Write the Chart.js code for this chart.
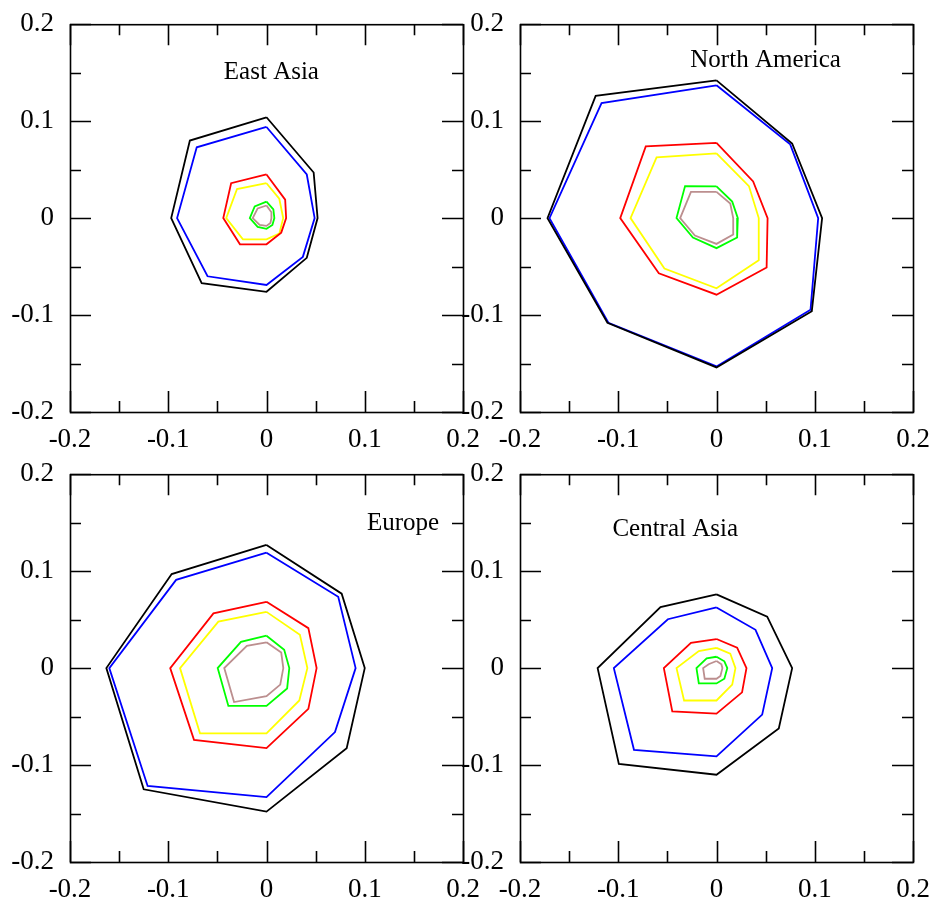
<!DOCTYPE html>
<html>
<head>
<meta charset="utf-8">
<script src="https://cdn.jsdelivr.net/npm/chart.js@4.4.1/dist/chart.umd.min.js"></script>
<style>
  body { margin: 0; background: #fff; width: 934px; height: 899px; position: relative; overflow: hidden; }
  canvas { position: absolute; }
</style>
</head>
<body>
<canvas id="eastAsia" width="485" height="460" style="left:0px;top:0px"></canvas>
<canvas id="northAmerica" width="485" height="460" style="left:450px;top:0px"></canvas>
<canvas id="europe" width="485" height="460" style="left:0px;top:450px"></canvas>
<canvas id="centralAsia" width="485" height="460" style="left:450px;top:450px"></canvas>
<script>
// tick values and labels (same for every panel)
const tickLabels = ['-0.2', '-0.1', '0', '0.1', '0.2'];
const majorTicks = [-0.2, -0.1, 0, 0.1, 0.2];
const minorTicks = [-0.15, -0.05, 0.05, 0.15];

// line colours, outer to inner
const lineColors = ['#000000', '#0000ff', '#ff0000', '#ffff00', '#00ff00', '#bc8f8f'];

// East Asia polygons (x, y)
const eastAsiaBlack  = [[0,0.104],[0.048,0.047],[0.052,0],[0.041,-0.041],[0,-0.076],[-0.066,-0.067],[-0.097,0],[-0.078,0.080]];
const eastAsiaBlue   = [[0,0.094],[0.041,0.045],[0.049,0],[0.037,-0.040],[0,-0.069],[-0.060,-0.060],[-0.091,0],[-0.071,0.073]];
const eastAsiaRed    = [[0,0.045],[0.019,0.019],[0.020,0],[0.015,-0.015],[0,-0.027],[-0.027,-0.027],[-0.044,0],[-0.036,0.036]];
const eastAsiaYellow = [[0,0.036],[0.013,0.020],[0.017,0],[0.013,-0.016],[0,-0.022],[-0.024,-0.022],[-0.041,0],[-0.030,0.030]];
const eastAsiaGreen  = [[0,0.017],[0.007,0.009],[0.008,0],[0.006,-0.007],[0,-0.011],[-0.009,-0.009],[-0.017,0],[-0.012,0.012]];
const eastAsiaBrown  = [[0,0.013],[0.005,0.006],[0.005,0],[0.004,-0.005],[0,-0.008],[-0.007,-0.007],[-0.014,0],[-0.009,0.010]];

// North America polygons
const northAmericaBlack  = [[0,0.142],[0.077,0.077],[0.1075,0],[0.097,-0.096],[0,-0.154],[-0.111,-0.108],[-0.172,0],[-0.123,0.126]];
const northAmericaBlue   = [[0,0.137],[0.075,0.076],[0.1035,0],[0.0957,-0.0945],[0,-0.153],[-0.110,-0.108],[-0.170,0],[-0.117,0.1186]];
const northAmericaRed    = [[0,0.0775],[0.0373,0.0378],[0.052,0],[0.051,-0.051],[0,-0.079],[-0.0587,-0.057],[-0.098,0],[-0.072,0.074]];
const northAmericaYellow = [[0,0.0667],[0.033,0.033],[0.043,0],[0.043,-0.0436],[0,-0.0724],[-0.053,-0.052],[-0.0875,0],[-0.061,0.0626]];
const northAmericaGreen  = [[0,0.0327],[0.016,0.017],[0.0217,0],[0.021,-0.020],[0,-0.031],[-0.024,-0.020],[-0.0407,0],[-0.032,0.033]];
const northAmericaBrown  = [[0,0.027],[0.014,0.015],[0.017,0],[0.017,-0.017],[0,-0.0266],[-0.022,-0.018],[-0.037,0],[-0.026,0.027]];

// Europe polygons
const europeBlack  = [[0,0.127],[0.0765,0.0768],[0.100,0],[0.0816,-0.0826],[0,-0.148],[-0.125,-0.125],[-0.163,0],[-0.0965,0.097]];
const europeBlue   = [[0,0.119],[0.073,0.0735],[0.0907,0],[0.0697,-0.066],[0,-0.133],[-0.121,-0.1216],[-0.160,0],[-0.092,0.091]];
const europeRed    = [[0,0.0684],[0.0426,0.0412],[0.051,0],[0.0426,-0.042],[0,-0.0826],[-0.0738,-0.074],[-0.098,0],[-0.054,0.0565]];
const europeYellow = [[0,0.058],[0.034,0.0344],[0.0416,0],[0.0334,-0.0334],[0,-0.0673],[-0.0677,-0.0673],[-0.088,0],[-0.049,0.048]];
const europeGreen  = [[0,0.0334],[0.018,0.019],[0.0232,0],[0.021,-0.021],[0,-0.039],[-0.0388,-0.039],[-0.0497,0],[-0.026,0.027]];
const europeBrown  = [[0,0.0266],[0.015,0.016],[0.0171,0],[0.014,-0.017],[0,-0.029],[-0.033,-0.035],[-0.043,0],[-0.020,0.023]];

// Central Asia polygons
const centralAsiaBlack  = [[0,0.076],[0.0516,0.053],[0.077,0],[0.0634,-0.0623],[0,-0.110],[-0.0994,-0.0989],[-0.121,0],[-0.057,0.063]];
const centralAsiaBlue   = [[0,0.0626],[0.0397,0.0395],[0.0567,0],[0.0465,-0.048],[0,-0.091],[-0.084,-0.0843],[-0.1045,0],[-0.0495,0.0504]];
const centralAsiaRed    = [[0,0.030],[0.021,0.021],[0.0305,0],[0.026,-0.025],[0,-0.047],[-0.045,-0.0446],[-0.0536,0],[-0.026,0.026]];
const centralAsiaYellow = [[0,0.0209],[0.014,0.015],[0.0193,0],[0.016,-0.017],[0,-0.0334],[-0.033,-0.0334],[-0.0407,0],[-0.018,0.0175]];
const centralAsiaGreen  = [[0,0.0117],[0.008,0.007],[0.011,0],[0.008,-0.011],[0,-0.0158],[-0.018,-0.0158],[-0.0204,0],[-0.010,0.010]];
const centralAsiaBrown  = [[0,0.0073],[0.005,0.004],[0.006,0],[0.004,-0.008],[0,-0.011],[-0.012,-0.011],[-0.0136,0],[-0.008,0.004]];

// Draws the box, the inward ticks on all four sides and the region name
const frameTicks = {
  id: 'frameTicks',
  afterDatasetsDraw(chart, args, opts) {
    const ctx = chart.ctx;
    const a = chart.chartArea;
    const xs = chart.scales.x, ys = chart.scales.y;
    ctx.save();
    ctx.strokeStyle = '#000';
    ctx.lineWidth = 1.6;
    ctx.beginPath();
    const tick = (v, len) => {
      const px = Math.round(xs.getPixelForValue(v)) + 0.5;
      const py = Math.round(ys.getPixelForValue(v)) + 0.5;
      ctx.moveTo(px, a.bottom); ctx.lineTo(px, a.bottom - len);
      ctx.moveTo(px, a.top); ctx.lineTo(px, a.top + len);
      ctx.moveTo(a.left, py); ctx.lineTo(a.left + len, py);
      ctx.moveTo(a.right, py); ctx.lineTo(a.right - len, py);
    };
    majorTicks.forEach(v => tick(v, 21));
    minorTicks.forEach(v => tick(v, 11));
    ctx.stroke();
    ctx.strokeRect(a.left + 0.5, a.top + 0.5, a.right - a.left, a.bottom - a.top);

    ctx.fillStyle = '#000';
    ctx.font = '25px "Liberation Serif"';
    ctx.textAlign = 'center';
    ctx.textBaseline = 'middle';
    ctx.fillText(opts.label, xs.getPixelForValue(opts.at[0]), ys.getPixelForValue(opts.at[1]));
    ctx.restore();
  }
};

function makeAxis(side) {
  return {
    type: 'linear',
    position: side,
    min: -0.2,
    max: 0.2,
    grid: { display: false },
    border: { display: false },
    ticks: {
      stepSize: 0.1,
      autoSkip: false,
      maxRotation: 0,
      padding: side === 'left' ? 8 : 4,
      color: '#000',
      font: { family: 'Liberation Serif', size: 27 },
      callback: (v, i) => tickLabels[i]
    },
    afterFit: scale => {
      if (side === 'left') scale.width = 70;
      else scale.height = 48;
    }
  };
}

function drawPanel(id, label, at, polys) {
  const datasets = polys.map((p, i) => ({
    data: p.concat([p[0]]).map(pt => ({ x: pt[0], y: pt[1] })),
    borderColor: lineColors[i],
    borderWidth: 1.8,
    showLine: true,
    pointRadius: 0,
    fill: false,
    tension: 0
  }));
  new Chart(document.getElementById(id), {
    type: 'scatter',
    data: { datasets: datasets },
    options: {
      responsive: false,
      animation: false,
      layout: { padding: { top: 19, right: 22, left: 0, bottom: 0 } },
      plugins: {
        legend: { display: false },
        tooltip: { enabled: false },
        frameTicks: { label: label, at: at }
      },
      scales: { x: makeAxis('bottom'), y: makeAxis('left') }
    },
    plugins: [frameTicks]
  });
}

drawPanel('eastAsia', 'East Asia', [0.005, 0.150],
  [eastAsiaBlack, eastAsiaBlue, eastAsiaRed, eastAsiaYellow, eastAsiaGreen, eastAsiaBrown]);
drawPanel('northAmerica', 'North America', [0.050, 0.163],
  [northAmericaBlack, northAmericaBlue, northAmericaRed, northAmericaYellow, northAmericaGreen, northAmericaBrown]);
drawPanel('europe', 'Europe', [0.139, 0.149],
  [europeBlack, europeBlue, europeRed, europeYellow, europeGreen, europeBrown]);
drawPanel('centralAsia', 'Central Asia', [-0.042, 0.143],
  [centralAsiaBlack, centralAsiaBlue, centralAsiaRed, centralAsiaYellow, centralAsiaGreen, centralAsiaBrown]);
</script>
</body>
</html>
